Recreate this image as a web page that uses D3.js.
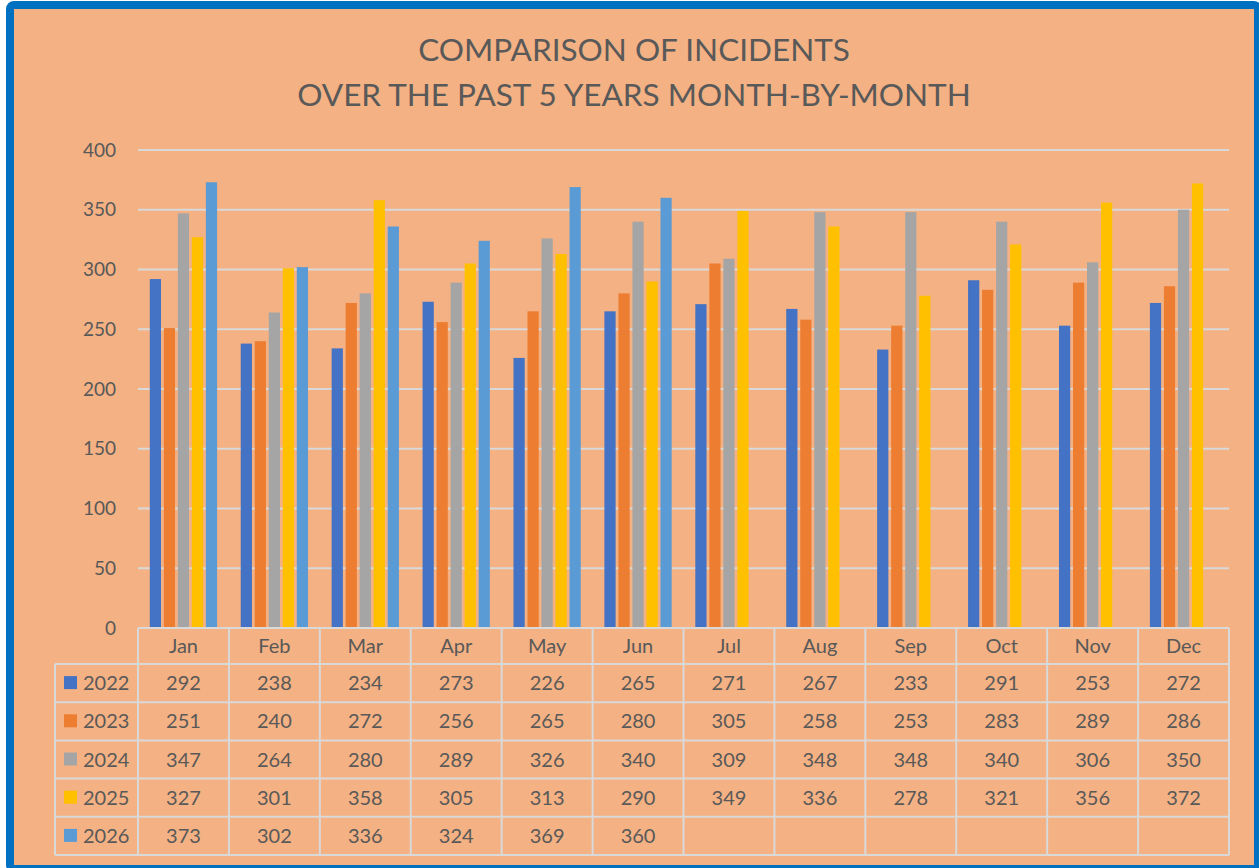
<!DOCTYPE html>
<html>
<head>
<meta charset="utf-8">
<title>Comparison of incidents</title>
<script src="https://d3js.org/d3.v7.min.js"></script>
<style>
  html, body { margin: 0; padding: 0; background: #fff; }
  svg { display: block; font-family: Lato, "Open Sans", sans-serif; }
</style>
</head>
<body>
<div id="chart"></div>
<script>
// data
const months = ['Jan', 'Feb', 'Mar', 'Apr', 'May', 'Jun', 'Jul', 'Aug', 'Sep', 'Oct', 'Nov', 'Dec'];
const years = ['2022', '2023', '2024', '2025', '2026'];
const v2022 = [292, 238, 234, 273, 226, 265, 271, 267, 233, 291, 253, 272];
const v2023 = [251, 240, 272, 256, 265, 280, 305, 258, 253, 283, 289, 286];
const v2024 = [347, 264, 280, 289, 326, 340, 309, 348, 348, 340, 306, 350];
const v2025 = [327, 301, 358, 305, 313, 290, 349, 336, 278, 321, 356, 372];
const v2026 = [373, 302, 336, 324, 369, 360, null, null, null, null, null, null];
const yTicks = [0, 50, 100, 150, 200, 250, 300, 350, 400];
const colors = ['#4472C4', '#ED7D31', '#A5A5A5', '#FFC000', '#5B9BD5'];

const series = years.map((y, i) => ({ year: y, color: colors[i], values: [v2022, v2023, v2024, v2025, v2026][i] }));

// sizes
const width = 1259, height = 868;
const plotLeft = 138, plotRight = 1229, plotTop = 150, zeroY = 628;
const headerH = 36, rowH = 38.2, legendLeft = 55;
const textCol = '#595959', lineCol = '#D9D9D9';

const svg = d3.select('#chart').append('svg')
  .attr('width', width)
  .attr('height', height);

// background + border
svg.append('rect')
  .attr('x', 10).attr('y', 5)
  .attr('width', 1248).attr('height', 864)
  .attr('rx', 4)
  .attr('fill', '#F4B183')
  .attr('stroke', '#0070C0')
  .attr('stroke-width', 8);

// title
const title = svg.append('text')
  .attr('text-anchor', 'middle')
  .attr('fill', textCol)
  .style('font-size', '31.5px');
title.append('tspan').attr('x', 634).attr('y', 61).text('COMPARISON OF INCIDENTS');
title.append('tspan').attr('x', 634).attr('y', 106).text('OVER THE PAST 5 YEARS MONTH-BY-MONTH');

// scales
const x0 = d3.scaleBand().domain(months).range([plotLeft, plotRight]);
const bw = x0.bandwidth();
const x1 = d3.scaleBand().domain(years).range([bw * 0.13, bw * 0.87]).paddingInner(0.2);
const y = d3.scaleLinear().domain([0, 400]).range([zeroY, plotTop]);

// gridlines
svg.append('g')
  .selectAll('line')
  .data(yTicks.filter(d => d > 0))
  .join('line')
  .attr('x1', plotLeft).attr('x2', plotRight)
  .attr('y1', d => y(d)).attr('y2', d => y(d))
  .attr('stroke', lineCol)
  .attr('stroke-width', 2);

// y axis labels
svg.append('g')
  .selectAll('text')
  .data(yTicks)
  .join('text')
  .attr('x', 116)
  .attr('y', d => y(d))
  .attr('dy', '0.35em')
  .attr('text-anchor', 'end')
  .attr('fill', textCol)
  .style('font-size', '19px')
  .text(d => d);

// bars
const groups = svg.append('g')
  .selectAll('g')
  .data(series)
  .join('g')
  .attr('fill', d => d.color);

groups.selectAll('rect')
  .data(d => d.values.map((v, i) => ({ year: d.year, month: months[i], value: v })).filter(e => e.value != null))
  .join('rect')
  .attr('x', d => x0(d.month) + x1(d.year))
  .attr('width', x1.bandwidth())
  .attr('y', d => y(d.value))
  .attr('height', d => y(0) - y(d.value));

// data table
const table = svg.append('g');
const tableBottom = zeroY + headerH + rowH * years.length;

// horizontal lines
table.append('line')
  .attr('x1', plotLeft).attr('x2', plotRight)
  .attr('y1', zeroY).attr('y2', zeroY);
years.concat(['end']).forEach((yr, i) => {
  const yy = zeroY + headerH + rowH * i;
  table.append('line')
    .attr('x1', legendLeft).attr('x2', plotRight)
    .attr('y1', yy).attr('y2', yy);
});
// vertical lines
months.concat(['end']).forEach((m, i) => {
  const xx = plotLeft + bw * i;
  table.append('line')
    .attr('x1', xx).attr('x2', xx)
    .attr('y1', zeroY).attr('y2', tableBottom);
});
table.append('line')
  .attr('x1', legendLeft).attr('x2', legendLeft)
  .attr('y1', zeroY + headerH).attr('y2', tableBottom);
table.selectAll('line')
  .attr('stroke', lineCol)
  .attr('stroke-width', 2);

// month headers
table.append('g')
  .selectAll('text')
  .data(months)
  .join('text')
  .attr('x', d => x0(d) + bw / 2)
  .attr('y', zeroY + headerH / 2)
  .attr('dy', '0.35em')
  .attr('text-anchor', 'middle')
  .attr('fill', textCol)
  .style('font-size', '20px')
  .text(d => d);

// rows
series.forEach((s, i) => {
  const cy = zeroY + headerH + rowH * i + rowH / 2;
  table.append('rect')
    .attr('x', 64).attr('y', cy - 7)
    .attr('width', 13).attr('height', 13)
    .attr('fill', s.color);
  table.append('text')
    .attr('x', 83).attr('y', cy)
    .attr('dy', '0.35em')
    .attr('fill', textCol)
    .style('font-size', '20px')
    .text(s.year);
  table.append('g')
    .selectAll('text')
    .data(s.values.map((v, j) => ({ v, m: months[j] })).filter(e => e.v != null))
    .join('text')
    .attr('x', d => x0(d.m) + bw / 2)
    .attr('y', cy)
    .attr('dy', '0.35em')
    .attr('text-anchor', 'middle')
    .attr('fill', textCol)
    .style('font-size', '20px')
    .text(d => d.v);
});
</script>
</body>
</html>
